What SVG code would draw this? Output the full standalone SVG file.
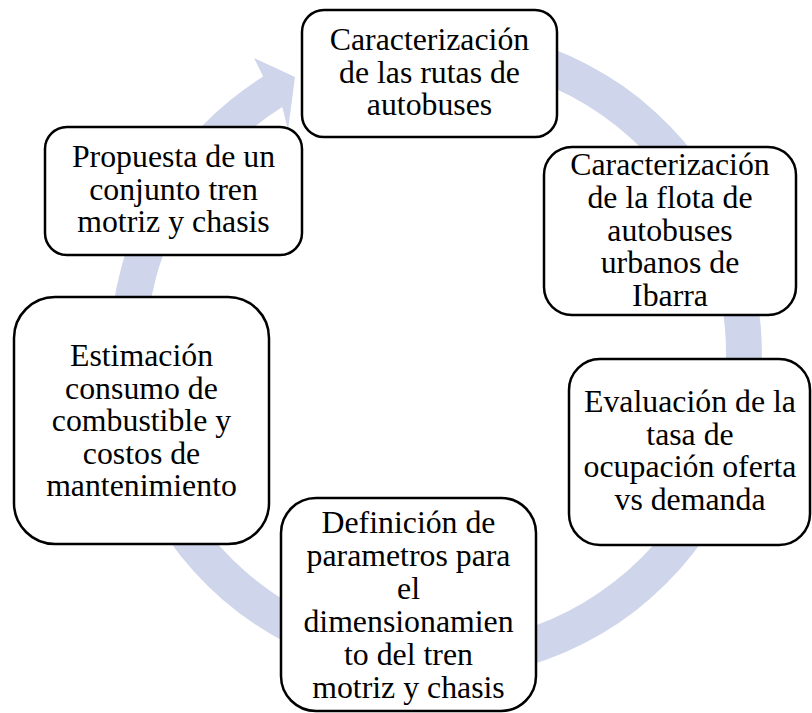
<svg xmlns="http://www.w3.org/2000/svg" width="812" height="713" viewBox="0 0 812 713">
<style>
.box{fill:#fff;stroke:#000;stroke-width:2.5}
.t{font-family:"Liberation Serif","Times New Roman",serif;font-size:31.8px;fill:#000;text-anchor:middle}
.ring{fill:#cfd5ea;stroke:none}
</style>
<rect width="812" height="713" fill="#fff"/>
<g id="connectors">
<path class="ring" d="M 351.6 38.1 A 326 326 0 1 1 263.2 76.5 L 254 58 L 295 77 L 288 130 L 282.3 107.1 A 290 290 0 1 0 360.9 72.9 Z"/>
</g>
<g id="n1">
<rect class="box" x="302" y="10" width="255" height="127" rx="22" ry="22"/>
<text class="t" x="429.5" y="50">Caracterización</text>
<text class="t" x="429.5" y="82.5">de las rutas de</text>
<text class="t" x="429.5" y="115">autobuses</text>
</g>
<g id="n2">
<rect class="box" x="544" y="147" width="252" height="168" rx="28" ry="28"/>
<text class="t" x="670" y="175">Caracterización</text>
<text class="t" x="670" y="208">de la flota de</text>
<text class="t" x="670" y="241">autobuses</text>
<text class="t" x="670" y="273">urbanos de</text>
<text class="t" x="670" y="306">Ibarra</text>
</g>
<g id="n3">
<rect class="box" x="569" y="359" width="241" height="186" rx="31" ry="31"/>
<text class="t" x="690" y="412">Evaluación de la</text>
<text class="t" x="690" y="444.5">tasa de</text>
<text class="t" x="690" y="477">ocupación oferta</text>
<text class="t" x="690" y="509.5">vs demanda</text>
</g>
<g id="n4">
<rect class="box" x="281" y="498" width="255" height="213" rx="35" ry="35"/>
<text class="t" x="408.5" y="533">Definición de</text>
<text class="t" x="408.5" y="566">parametros para</text>
<text class="t" x="408.5" y="599">el</text>
<text class="t" x="408.5" y="632">dimensionamien</text>
<text class="t" x="408.5" y="665">to del tren</text>
<text class="t" x="408.5" y="698">motriz y chasis</text>
</g>
<g id="n5">
<rect class="box" x="14" y="297" width="255" height="247" rx="41" ry="41"/>
<text class="t" x="141.5" y="366">Estimación</text>
<text class="t" x="141.5" y="398.5">consumo de</text>
<text class="t" x="141.5" y="431">combustible y</text>
<text class="t" x="141.5" y="463.5">costos de</text>
<text class="t" x="141.5" y="496">mantenimiento</text>
</g>
<g id="n6">
<rect class="box" x="45" y="127" width="257" height="128" rx="22" ry="22"/>
<text class="t" x="173.5" y="167">Propuesta de un</text>
<text class="t" x="173.5" y="200">conjunto tren</text>
<text class="t" x="173.5" y="232">motriz y chasis</text>
</g>
</svg>
